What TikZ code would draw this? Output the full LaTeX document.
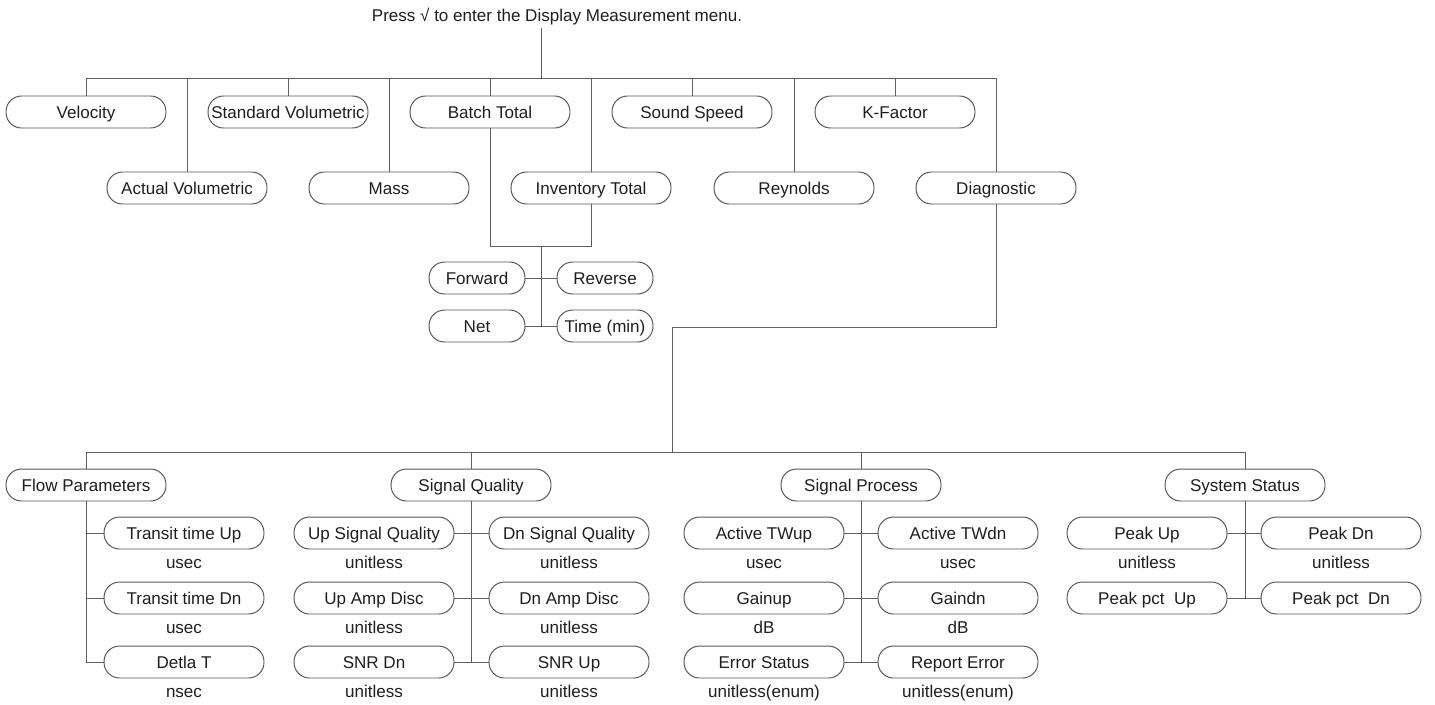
\documentclass[tikz,border=0pt]{standalone}
\usepackage{fontspec}
\setmainfont{Liberation Sans}
\usepackage{tikz}
\usetikzlibrary{positioning}
\usepackage{xcolor}
\definecolor{wiregray}{RGB}{95,95,95}
\definecolor{boxgray}{RGB}{85,85,85}
\definecolor{inkblack}{RGB}{30,30,30}

\begin{document}
\begin{tikzpicture}[x=0.02cm, y=-0.02cm, font=\fontsize{9.7}{11}\selectfont,
  menu/.style={draw=boxgray, line width=0.55pt, rounded corners=0.31cm, minimum width=3.2cm,
    minimum height=0.64cm, inner sep=0pt, text=inkblack, text height=0.72em, text depth=0pt},
  shortmenu/.style={menu, minimum width=1.92cm},
  unit/.style={inner sep=0pt, text=inkblack, text height=0.72em, text depth=0pt},
  wire/.style={wiregray, line width=0.55pt}]
  \useasboundingbox (0,0) rectangle (1435,704);
  % heading
  \node[unit] (press) at (557,15.5) {Press √ to enter the Display Measurement menu.};
  \coordinate (top) at (541,78);
  \draw[wire, shorten <=0.12cm] (top |- press.south) -- (top);
  % first level
  \foreach \n/\t/\x/\y in {vel/Velocity/86/112, avol/Actual Volumetric/187/188,
      svol/Standard Volumetric/288/112, mass/Mass/389/188, batch/Batch Total/490/112,
      inv/Inventory Total/591/188, sound/Sound Speed/692/112, rey/Reynolds/794/188,
      kfac/K-Factor/895/112, diag/Diagnostic/996/188}
    \node[menu] (\n) at (\x,\y) {\t};
  \draw[wire] (vel.north |- top) -- (diag.north |- top);
  \foreach \n in {vel,avol,svol,mass,batch,inv,sound,rey,kfac,diag}
    \draw[wire] (\n.north |- top) -- (\n.north);
  % totals
  \node[shortmenu] (fwd) at (477,278) {Forward};
  \node[shortmenu] (rev) at (605,278) {Reverse};
  \node[shortmenu] (net) at (477,326) {Net};
  \node[shortmenu] (time) at (605,326) {Time (min)};
  \coordinate (tot) at (541,246);
  \draw[wire] (batch.south) -- (batch.south |- tot) -- (inv.south |- tot) -- (inv.south);
  \draw[wire] (tot) -- (tot |- net.east);
  \draw[wire] (fwd.east) -- (rev.west);
  \draw[wire] (net.east) -- (time.west);
  % diagnostic
  \coordinate (turn) at (672,327);
  \coordinate (bus) at (672,452);
  \draw[wire] (diag.south) -- (diag.south |- turn) -- (turn) -- (bus);
  \foreach \n/\t/\x in {flow/Flow Parameters/86, sq/Signal Quality/471,
      sp/Signal Process/861, sys/System Status/1245}
    \node[menu] (\n) at (\x,485) {\t};
  \draw[wire] (flow.north |- bus) -- (sys.north |- bus);
  \foreach \n in {flow,sq,sp,sys}
    \draw[wire] (\n.north |- bus) -- (\n.north);
  % flow parameters
  \foreach \n/\t/\u/\y in {tup/Transit time Up/usec/533, tdn/Transit time Dn/usec/598,
      dlt/Detla T/nsec/662} {
    \node[menu] (\n) at (184,\y) {\t};
    \node[unit] (\n-u) at (184,\y+29) {\u};
    \draw[wire] (flow.south |- \n.west) -- (\n.west);
  }
  \draw[wire] (flow.south) -- (flow.south |- dlt.west);
  % signal quality
  \foreach \a/\ta/\b/\tb/\y in {upsq/Up Signal Quality/dnsq/Dn Signal Quality/533,
      upamp/Up Amp Disc/dnamp/Dn Amp Disc/598, snrdn/SNR Dn/snrup/SNR Up/662} {
    \node[menu] (\a) at (374,\y) {\ta};
    \node[unit] (\a-u) at (374,\y+29) {unitless};
    \node[menu] (\b) at (569,\y) {\tb};
    \node[unit] (\b-u) at (569,\y+29) {unitless};
    \draw[wire] (\a.east) -- (\b.west);
  }
  \draw[wire] (sq.south) -- (sq.south |- snrdn.east);
  % signal process
  \foreach \a/\ta/\b/\tb/\u/\y in {twup/Active TWup/twdn/Active TWdn/usec/533,
      gup/Gainup/gdn/Gaindn/dB/598, errst/Error Status/reperr/Report Error/unitless(enum)/662} {
    \node[menu] (\a) at (764,\y) {\ta};
    \node[unit] (\a-u) at (764,\y+29) {\u};
    \node[menu] (\b) at (958,\y) {\tb};
    \node[unit] (\b-u) at (958,\y+29) {\u};
    \draw[wire] (\a.east) -- (\b.west);
  }
  \draw[wire] (sp.south) -- (sp.south |- errst.east);
  % system status
  \node[menu] (pkup) at (1147,533) {Peak Up};
  \node[unit] (pkup-u) at (1147,562) {unitless};
  \node[menu] (pkdn) at (1341,533) {Peak Dn};
  \node[unit] (pkdn-u) at (1341,562) {unitless};
  \node[menu] (pctup) at (1147,598) {Peak pct~ Up};
  \node[menu] (pctdn) at (1341,598) {Peak pct~ Dn};
  \draw[wire] (pkup.east) -- (pkdn.west);
  \draw[wire] (pctup.east) -- (pctdn.west);
  \draw[wire] (sys.south) -- (sys.south |- pctup.east);
\end{tikzpicture}
\end{document}
